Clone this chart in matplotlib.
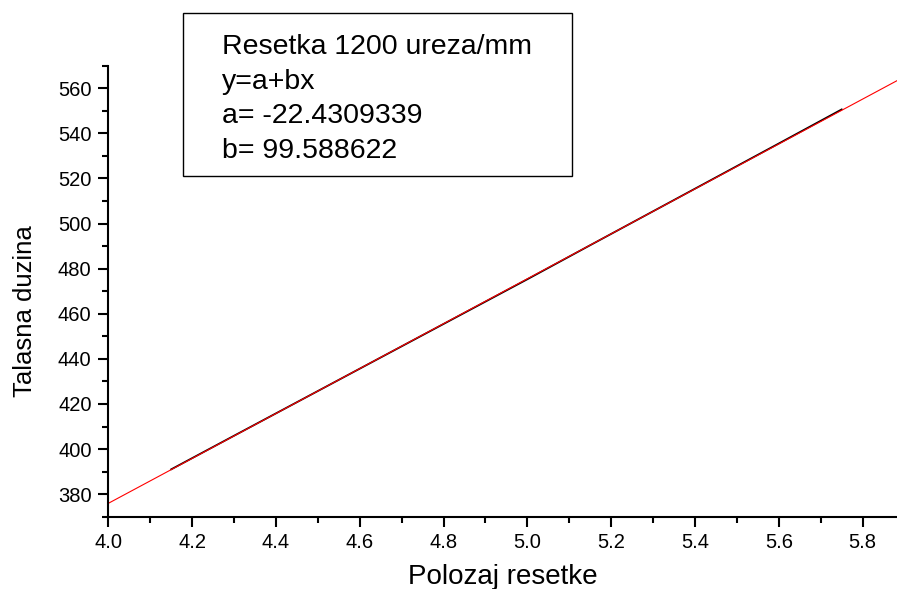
import matplotlib
matplotlib.use("Agg")
import matplotlib.pyplot as plt
from matplotlib.patches import Rectangle
from matplotlib.ticker import MultipleLocator
import numpy as np

plt.rcParams['font.family'] = ['Liberation Sans', 'DejaVu Sans']

# measured grating position vs wavelength
polozaj = [4.15, 4.30, 5.00, 5.15, 5.60, 5.75]
talasna = [391.0, 405.9, 475.3, 490.4, 535.5, 550.6]

# linear fit y = a + b*x
a = -22.4309339
b = 99.588622
fit_x = [4.0, 5.882]

box_lines = ["Resetka 1200 ureza/mm", "y=a+bx", "a= -22.4309339", "b= 99.588622"]

fig = plt.figure(figsize=(8.97, 5.89), dpi=100)
ax = fig.add_axes([0.1207, 0.1227, 0.8793, 0.7658])

ax.plot(polozaj, talasna, color='black', lw=1.3)
ax.plot(fit_x, [a + b * v for v in fit_x], color='red', lw=0.8)

ax.set_xlim(4.0, 5.882)
ax.set_ylim(370, 570)
ax.spines['top'].set_visible(False)
ax.spines['right'].set_visible(False)
for s in ('left', 'bottom'):
    ax.spines[s].set_linewidth(1.5)

ax.xaxis.set_major_locator(MultipleLocator(0.2))
ax.xaxis.set_minor_locator(MultipleLocator(0.1))
ax.yaxis.set_major_locator(MultipleLocator(20))
ax.yaxis.set_minor_locator(MultipleLocator(10))
ax.xaxis.set_major_formatter(plt.FormatStrFormatter('%.1f'))
ax.tick_params(which='major', length=7, width=1.5, labelsize=14.5, pad=5)
ax.tick_params(which='minor', length=4, width=1.5)

ax.set_xlabel("Polozaj resetke", fontsize=20)
ax.set_ylabel("Talasna duzina", fontsize=18.5)
ax.xaxis.set_label_coords(0.5, -0.105)
ax.yaxis.set_label_coords(-0.09, 0.455)

# fit parameters box
fig.patches.append(Rectangle((0.2037, 0.701), 0.4343, 0.2775, transform=fig.transFigure,
                             fill=False, edgecolor='black', lw=1.0))
for i, t in enumerate(box_lines):
    fig.text(0.2472, 0.9078 - i * 0.0585, t, fontsize=20.5, ha='left', va='baseline')

fig.savefig("out.png", dpi=100)
